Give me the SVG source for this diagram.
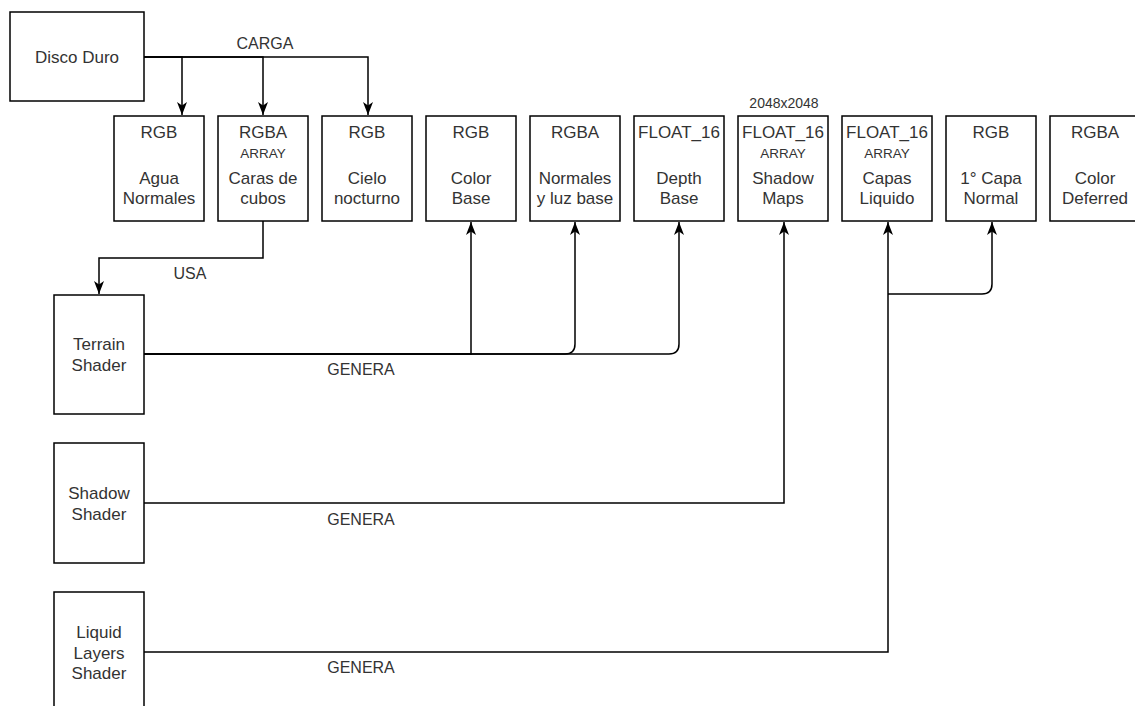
<svg xmlns="http://www.w3.org/2000/svg" width="1135" height="706" viewBox="0 0 1135 706">
<style>
.box{fill:#fff;stroke:#000;stroke-width:1.5}
.t{font-family:"Liberation Sans",Arial,sans-serif;font-size:17px;fill:#333;text-anchor:middle}
.s{font-family:"Liberation Sans",Arial,sans-serif;font-size:13.5px;fill:#333;text-anchor:middle}
.l{font-family:"Liberation Sans",Arial,sans-serif;font-size:16px;fill:#333;text-anchor:middle}
.e{fill:none;stroke:#000;stroke-width:1.5}
</style>
<defs>
<marker id="a" markerWidth="14" markerHeight="14" viewBox="0 0 14 14" refX="13" refY="7" orient="auto" markerUnits="userSpaceOnUse">
<path d="M0,2 L13,7 L0,12 L3.5,7 Z" fill="#000"/>
</marker>
</defs>
<rect width="1135" height="706" fill="#fff"/>
<g id="connectors">
<path class="e" d="M144,57 H182 V115" marker-end="url(#a)"/>
<path class="e" d="M144,57 H263 V115" marker-end="url(#a)"/>
<path class="e" d="M144,57 H368 V115" marker-end="url(#a)"/>
<path class="e" d="M263,221 V258 H99 V294" marker-end="url(#a)"/>
<path class="e" d="M144,354 H471 V222" marker-end="url(#a)"/>
<path class="e" d="M144,354 H565 Q575,354 575,344 V222" marker-end="url(#a)"/>
<path class="e" d="M144,354 H669 Q679,354 679,344 V222" marker-end="url(#a)"/>
<path class="e" d="M144,503 H784 V222" marker-end="url(#a)"/>
<path class="e" d="M144,652 H888 V222" marker-end="url(#a)"/>
<path class="e" d="M888,294 H982 Q992,294 992,284 V222" marker-end="url(#a)"/>
<text class="l" x="265" y="49">CARGA</text>
<text class="l" x="190" y="279">USA</text>
<text class="l" x="361" y="375">GENERA</text>
<text class="l" x="361" y="525">GENERA</text>
<text class="l" x="361" y="673">GENERA</text>
</g>
<g id="disco"><rect class="box" x="10" y="12" width="134" height="89"/><text class="t" x="77" y="63">Disco Duro</text></g>
<g id="agua"><rect class="box" x="114" y="116" width="90" height="105"/><text class="t" x="159" y="138">RGB</text><text class="t" x="159" y="184">Agua</text><text class="t" x="159" y="204">Normales</text></g>
<g id="caras"><rect class="box" x="218" y="116" width="90" height="105"/><text class="t" x="263" y="138">RGBA</text><text class="s" x="263" y="158">ARRAY</text><text class="t" x="263" y="184">Caras de</text><text class="t" x="263" y="204">cubos</text></g>
<g id="cielo"><rect class="box" x="322" y="116" width="90" height="105"/><text class="t" x="367" y="138">RGB</text><text class="t" x="367" y="184">Cielo</text><text class="t" x="367" y="204">nocturno</text></g>
<g id="colorbase"><rect class="box" x="426" y="116" width="90" height="105"/><text class="t" x="471" y="138">RGB</text><text class="t" x="471" y="184">Color</text><text class="t" x="471" y="204">Base</text></g>
<g id="normales"><rect class="box" x="530" y="116" width="90" height="105"/><text class="t" x="575" y="138">RGBA</text><text class="t" x="575" y="184">Normales</text><text class="t" x="575" y="204">y luz base</text></g>
<g id="depth"><rect class="box" x="634" y="116" width="90" height="105"/><text class="t" x="679" y="138">FLOAT_16</text><text class="t" x="679" y="184">Depth</text><text class="t" x="679" y="204">Base</text></g>
<g id="shadowmaps"><rect class="box" x="738" y="116" width="90" height="105"/><text class="s" x="784" y="108" style="font-size:14px">2048x2048</text><text class="t" x="783" y="138">FLOAT_16</text><text class="s" x="783" y="158">ARRAY</text><text class="t" x="783" y="184">Shadow</text><text class="t" x="783" y="204">Maps</text></g>
<g id="capas"><rect class="box" x="842" y="116" width="90" height="105"/><text class="t" x="887" y="138">FLOAT_16</text><text class="s" x="887" y="158">ARRAY</text><text class="t" x="887" y="184">Capas</text><text class="t" x="887" y="204">Liquido</text></g>
<g id="capanormal"><rect class="box" x="946" y="116" width="90" height="105"/><text class="t" x="991" y="138">RGB</text><text class="t" x="991" y="184">1° Capa</text><text class="t" x="991" y="204">Normal</text></g>
<g id="deferred"><rect class="box" x="1050" y="116" width="90" height="105"/><text class="t" x="1095" y="138">RGBA</text><text class="t" x="1095" y="184">Color</text><text class="t" x="1095" y="204">Deferred</text></g>
<g id="terrain"><rect class="box" x="54" y="295" width="90" height="119"/><text class="t" x="99" y="350">Terrain</text><text class="t" x="99" y="371">Shader</text></g>
<g id="shadow"><rect class="box" x="54" y="443" width="90" height="120"/><text class="t" x="99" y="499">Shadow</text><text class="t" x="99" y="520">Shader</text></g>
<g id="liquid"><rect class="box" x="54" y="592" width="90" height="120"/><text class="t" x="99" y="638">Liquid</text><text class="t" x="99" y="659">Layers</text><text class="t" x="99" y="679">Shader</text></g>
</svg>
